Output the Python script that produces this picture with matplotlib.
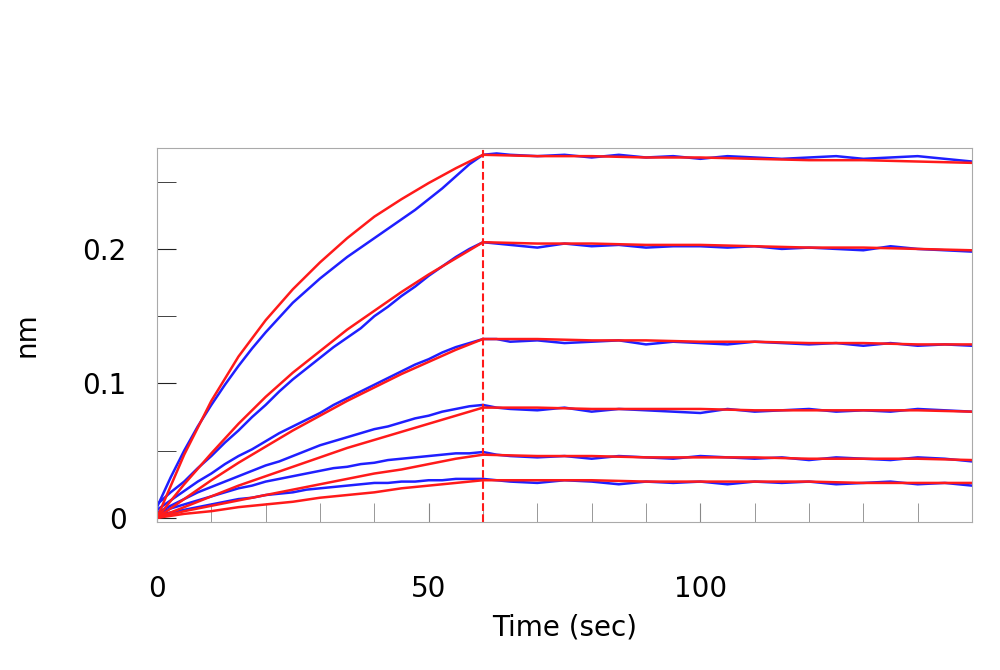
import matplotlib.pyplot as plt
import numpy as np

plt.rcParams['font.family'] = 'DejaVu Sans'

# fitted curves (red), association 0-60 s then dissociation 60-150 s
t_fit = [0, 5, 10, 15, 20, 25, 30, 35, 40, 45, 50, 55, 60,
         70, 80, 90, 100, 110, 120, 130, 140, 150]
fit1 = [0, 0.047, 0.087, 0.120, 0.147, 0.170, 0.190, 0.208, 0.224, 0.237, 0.249, 0.260, 0.270,
        0.269, 0.269, 0.268, 0.268, 0.267, 0.266, 0.266, 0.265, 0.264]
fit2 = [0, 0.025, 0.048, 0.07, 0.09, 0.108, 0.124, 0.14, 0.154, 0.168, 0.181, 0.193, 0.205,
        0.204, 0.204, 0.203, 0.203, 0.202, 0.201, 0.201, 0.200, 0.199]
fit3 = [0, 0.014, 0.028, 0.041, 0.053, 0.065, 0.076, 0.087, 0.097, 0.107, 0.116, 0.125, 0.133,
        0.133, 0.132, 0.132, 0.131, 0.131, 0.130, 0.130, 0.129, 0.129]
fit4 = [0, 0.008, 0.016, 0.024, 0.031, 0.038, 0.045, 0.052, 0.058, 0.064, 0.070, 0.076, 0.082,
        0.082, 0.081, 0.081, 0.081, 0.080, 0.080, 0.080, 0.080, 0.079]
fit5 = [0, 0.005, 0.009, 0.013, 0.017, 0.021, 0.025, 0.029, 0.033, 0.036, 0.040, 0.044, 0.047,
        0.046, 0.046, 0.045, 0.045, 0.045, 0.044, 0.044, 0.044, 0.043]
fit6 = [0, 0.003, 0.005, 0.008, 0.010, 0.012, 0.015, 0.017, 0.019, 0.022, 0.024, 0.026, 0.028,
        0.028, 0.028, 0.027, 0.027, 0.027, 0.027, 0.026, 0.026, 0.026]

# measured traces (blue), sampled every 2.5 s
t_raw = [0, 2.5, 5, 7.5, 10, 12.5, 15, 17.5, 20, 22.5, 25, 27.5, 30, 32.5, 35, 37.5, 40, 42.5,
         45, 47.5, 50, 52.5, 55, 57.5, 60, 62.5, 65, 70, 75, 80, 85, 90, 95, 100, 105, 110,
         115, 120, 125, 130, 135, 140, 145, 150]
raw1 = [0.008, 0.030, 0.050, 0.068, 0.084, 0.099, 0.113, 0.126, 0.138, 0.149, 0.160, 0.169, 0.178,
        0.186, 0.194, 0.201, 0.208, 0.215, 0.222, 0.229, 0.237, 0.245, 0.254, 0.263, 0.270,
        0.271, 0.270, 0.269, 0.270, 0.268, 0.270, 0.268, 0.269, 0.267, 0.269, 0.268,
        0.267, 0.268, 0.269, 0.267, 0.268, 0.269, 0.267, 0.265]
raw2 = [0.010, 0.019, 0.027, 0.037, 0.046, 0.056, 0.065, 0.075, 0.084, 0.094, 0.103, 0.111, 0.119,
        0.127, 0.134, 0.141, 0.150, 0.157, 0.165, 0.172, 0.180, 0.187, 0.194, 0.200, 0.205,
        0.204, 0.203, 0.201, 0.204, 0.202, 0.203, 0.201, 0.202, 0.202, 0.201, 0.202,
        0.200, 0.201, 0.200, 0.199, 0.202, 0.200, 0.199, 0.198]
raw3 = [0.006, 0.013, 0.020, 0.027, 0.033, 0.040, 0.046, 0.051, 0.057, 0.063, 0.068, 0.073, 0.078,
        0.084, 0.089, 0.094, 0.099, 0.104, 0.109, 0.114, 0.118, 0.123, 0.127, 0.130, 0.133,
        0.133, 0.131, 0.132, 0.130, 0.131, 0.132, 0.129, 0.131, 0.130, 0.129, 0.131,
        0.130, 0.129, 0.130, 0.128, 0.130, 0.128, 0.129, 0.128]
raw4 = [0.004, 0.009, 0.014, 0.019, 0.023, 0.027, 0.031, 0.035, 0.039, 0.042, 0.046, 0.050, 0.054,
        0.057, 0.060, 0.063, 0.066, 0.068, 0.071, 0.074, 0.076, 0.079, 0.081, 0.083, 0.084,
        0.082, 0.081, 0.080, 0.082, 0.079, 0.081, 0.080, 0.079, 0.078, 0.081, 0.079,
        0.080, 0.081, 0.079, 0.080, 0.079, 0.081, 0.080, 0.079]
raw5 = [0.003, 0.007, 0.010, 0.013, 0.016, 0.019, 0.022, 0.024, 0.027, 0.029, 0.031, 0.033, 0.035,
        0.037, 0.038, 0.040, 0.041, 0.043, 0.044, 0.045, 0.046, 0.047, 0.048, 0.048, 0.049,
        0.047, 0.046, 0.045, 0.046, 0.044, 0.046, 0.045, 0.044, 0.046, 0.045, 0.044,
        0.045, 0.043, 0.045, 0.044, 0.043, 0.045, 0.044, 0.042]
raw6 = [0.002, 0.004, 0.006, 0.008, 0.010, 0.012, 0.014, 0.015, 0.017, 0.018, 0.019, 0.021, 0.022,
        0.023, 0.024, 0.025, 0.026, 0.026, 0.027, 0.027, 0.028, 0.028, 0.029, 0.029, 0.029,
        0.028, 0.027, 0.026, 0.028, 0.027, 0.025, 0.027, 0.026, 0.027, 0.025, 0.027,
        0.026, 0.027, 0.025, 0.026, 0.027, 0.025, 0.026, 0.024]

fig = plt.figure(figsize=(10, 6.7), dpi=100)
ax = fig.add_axes([0.157, 0.221, 0.815, 0.558])

for r in [raw1, raw2, raw3, raw4, raw5, raw6]:
    ax.plot(t_raw, r, color='#1f1fff', lw=1.8)
for f in [fit1, fit2, fit3, fit4, fit5, fit6]:
    ax.plot(t_fit, f, color='#ff1a1a', lw=1.8)
ax.axvline(60, color='#ff1a1a', ls='--', lw=1.5)

ax.set_xlim(0, 150)
ax.set_ylim(-0.003, 0.275)
ax.set_xticks([0, 50, 100])
ax.set_xticks(np.arange(0, 151, 10), minor=True)
ax.set_yticks([0, 0.1, 0.2])
ax.set_yticklabels(['0', '0.1', '0.2'])
ax.set_yticks(np.arange(0, 0.27, 0.05), minor=True)
ax.tick_params(which='both', direction='in', color='#888888', labelsize=20, length=14)
ax.tick_params(axis='x', which='both', pad=38)
ax.tick_params(axis='y', which='both', color='#222222', length=14, pad=22)
for s in ax.spines.values():
    s.set_color('#aaaaaa')
ax.set_xlabel('Time (sec)', fontsize=20, labelpad=8)
ax.set_ylabel('nm', fontsize=20, labelpad=30)

fig.savefig('out.png')
